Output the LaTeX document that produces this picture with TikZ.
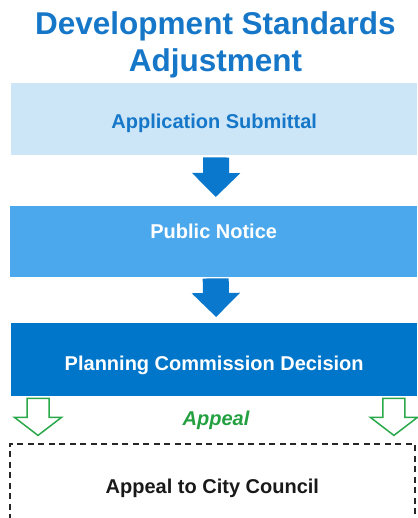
\documentclass[tikz,border=0pt]{standalone}
\usepackage{fontspec}
\setmainfont{Liberation Sans}
\usetikzlibrary{arrows.meta,calc}
\definecolor{titleblue}{HTML}{1677C8}
\definecolor{boxone}{HTML}{CCE6F8}
\definecolor{boxtwo}{HTML}{4CA8EC}
\definecolor{boxthree}{HTML}{0076CA}
\definecolor{arrowblue}{HTML}{0A78CC}
\definecolor{appealgreen}{HTML}{2BA84A}
\definecolor{appealtext}{HTML}{23A040}
\definecolor{dashgray}{HTML}{262626}
\begin{document}
\begin{tikzpicture}[x=1pt,y=-1pt,
  titletext/.style={font=\bfseries\fontsize{31.5}{36}\selectfont, text=titleblue, inner sep=0pt, anchor=base},
  stagebox/.style={anchor=north west, minimum height=72pt, inner sep=0pt,
    font=\bfseries\fontsize{20}{24}\selectfont},
  blockarrow/.style={draw=arrowblue, line width=26pt, -{Triangle[width=47pt,length=24pt]}},
  hollowline/.style={draw=appealgreen, fill=white, line width=1.5pt, line join=miter},
  hollowarrow/.pic={\path[hollowline] (-11,2) -- (11,2) -- (11,21) -- (23.5,21) -- (0,39) -- (-23.5,21) -- (-11,21) -- cycle;},
  dashbox/.style={anchor=north west, draw=dashgray, line width=1.7pt, dash pattern=on 6pt off 4.5pt,
    minimum width=405pt, minimum height=75pt, inner sep=0pt,
    font=\bfseries\fontsize{20}{24}\selectfont, text=black!90}
]
\useasboundingbox (0,0) rectangle (417,518);

\node[titletext] (t1) at (215.5,35) {Development Standards};
\node[titletext] (t2) at (215.5,72) {Adjustment};

\node[stagebox, fill=boxone, text=titleblue, minimum width=406pt, text height=18pt, text depth=0pt]
  (b1) at (11,83) {Application Submittal};
\node[stagebox, fill=boxtwo, text=white, minimum width=407pt, minimum height=71pt, text height=14.3pt, text depth=21.3pt]
  (b2) at (10,206) {Public Notice};
\node[stagebox, fill=boxthree, text=white, minimum width=406pt, minimum height=73pt, text height=21pt, text depth=0pt]
  (b3) at (11,323) {Planning Commission Decision};

\draw[blockarrow, shorten <=2pt, shorten >=9pt] ([xshift=2pt]b1.south) -- ([xshift=2pt]b2.north);
\draw[blockarrow, shorten <=1pt, shorten >=6pt] ([xshift=2pt]b2.south) -- ([xshift=2pt]b3.north);

\node[dashbox, text height=24pt, text depth=0pt] (b4) at (9,443) {Appeal to City Council};

\pic at ($(b3.south west)+(27,0)$) {hollowarrow};
\pic at ($(b3.south east)+(-23.5,0)$) {hollowarrow};

\node[font=\bfseries\itshape\fontsize{20}{24}\selectfont, text=appealtext, inner sep=0pt, anchor=base]
  (ap) at (216,425) {Appeal};
\end{tikzpicture}
\end{document}
